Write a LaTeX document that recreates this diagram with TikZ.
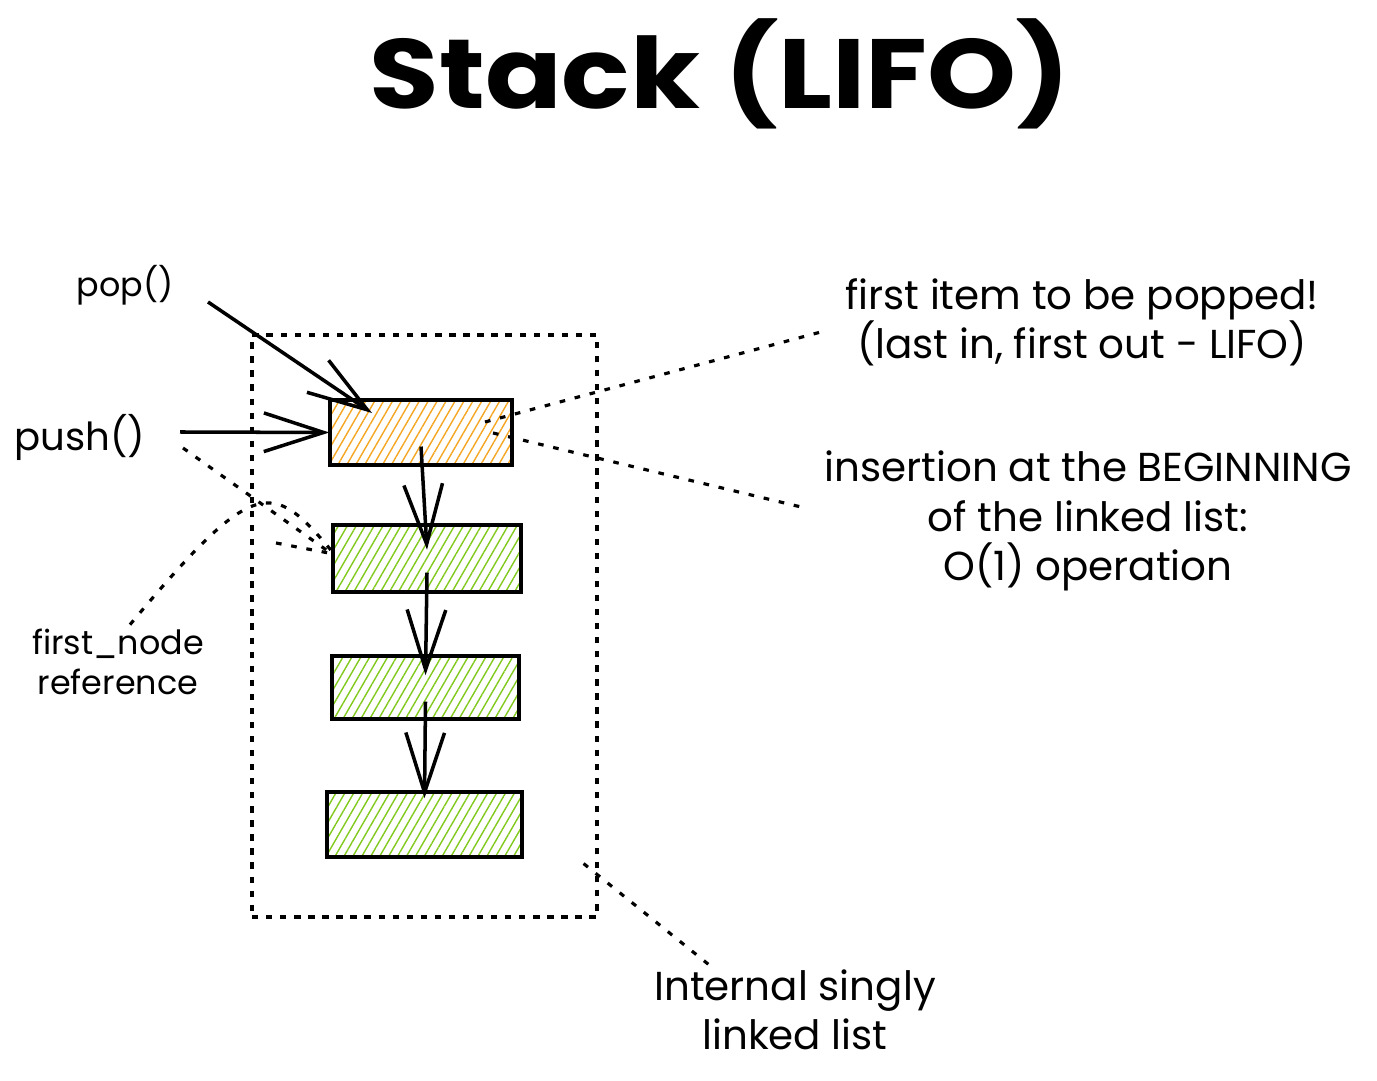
\documentclass[tikz,border=0pt]{standalone}
\usepackage{fontspec}
\setmainfont{Poppins}
\usetikzlibrary{arrows.meta,patterns.meta}

\definecolor{hatchorange}{HTML}{F5A623}
\definecolor{hatchgreen}{HTML}{82C91E}

\tikzset{
  item/.style={draw, line width=1pt, inner sep=0pt},
  newest/.style={item, pattern={Lines[angle=60,distance=2.2pt,line width=0.4pt]}, pattern color=hatchorange},
  older/.style={item, pattern={Lines[angle=60,distance=2.2pt,line width=0.4pt]}, pattern color=hatchgreen},
  link/.style={-{Straight Barb[length=17pt,width=11pt]}, line width=1pt},
  frameline/.style={dash pattern=on 1.8pt off 2.2pt, line width=0.9pt},
  leader/.style={dash pattern=on 1.6pt off 2.8pt, line width=0.9pt},
  label/.style={inner sep=1pt, font=\fontsize{11}{13}\selectfont},
  note/.style={align=center, inner sep=1pt, font=\fontsize{11.5}{14}\selectfont},
}

\begin{document}
\begin{tikzpicture}
\useasboundingbox (0,0) rectangle (13.77,-10.81);

\node[xscale=1.15] (title) at (7.20,-0.74) {\fontsize{28}{32}\selectfont\bfseries Stack (LIFO)};

% dotted outline of the list
\node[draw, frameline, minimum width=3.45cm, minimum height=5.82cm] (frame) at (4.245,-6.26) {};

% stack items, newest on top
\node[newest, minimum width=1.82cm, minimum height=0.65cm] (topItem) at (4.21,-4.325) {};
\foreach \name/\x/\y/\w/\h in {item2/4.27/5.585/1.88/0.67, item3/4.255/6.875/1.87/0.63, item4/4.245/8.245/1.95/0.65}
  \node[older, minimum width=\w cm, minimum height=\h cm] (\name) at (\x,-\y) {};

\foreach \a/\b/\t in {topItem/item2/2.5pt, item2/item3/3.5pt, item3/item4/7.5pt}
  \draw[link] ([yshift=-4pt]\a.center) -- ([yshift=\t]\b.center);

% operations
\node[label, font=\fontsize{9.5}{12}\selectfont] (popLabel) at (1.25,-2.85) {pop()};
\node[label] (pushLabel) at (0.80,-4.37) {push()};
\coordinate (popTail) at (2.08,-3.02);
\coordinate (pushTail) at (1.80,-4.32);
\draw[link] (popTail) -- ([shift={(-0.49,0.195)}]topItem.center);
\draw[link] (pushTail) -- (topItem.west);

% annotations
\node[note, font=\fontsize{9.5}{11.5}\selectfont] (refNote) at (1.18,-6.62) {first\_node\\reference};
\node[note] (topNote) at (10.82,-3.22) {first item to be popped!\\(last in, first out - LIFO)};
\node[note] (insertNote) at (10.88,-5.21) {insertion at the BEGINNING\\of the linked list:\\O(1) operation};
\node[note] (listNote) at (7.95,-10.10) {Internal singly\\linked list};

\coordinate (pushRef) at (1.83,-4.48);
\coordinate (refBend) at (2.76,-5.43);
\coordinate (topLead) at (4.85,-4.22);
\coordinate (insertLead) at (4.93,-4.33);

\draw[leader] (pushRef) -- ([yshift=0.05cm]item2.west);
\draw[leader] ([xshift=0.12cm]refNote.north) .. controls (2.55,-4.75) and (2.72,-4.80) .. ([yshift=0.08cm]item2.west);
\draw[leader] (refBend) -- ([yshift=0.05cm]item2.west);
\draw[leader] (topLead) -- ([shift={(-0.2,-0.10)}]topNote.west);
\draw[leader] (insertLead) -- ([shift={(-0.15,0.13)}]insertNote.west);
\draw[leader] ([shift={(-0.15,0.55)}]frame.south east) -- ([xshift=-0.85cm]listNote.north);
\end{tikzpicture}
\end{document}
